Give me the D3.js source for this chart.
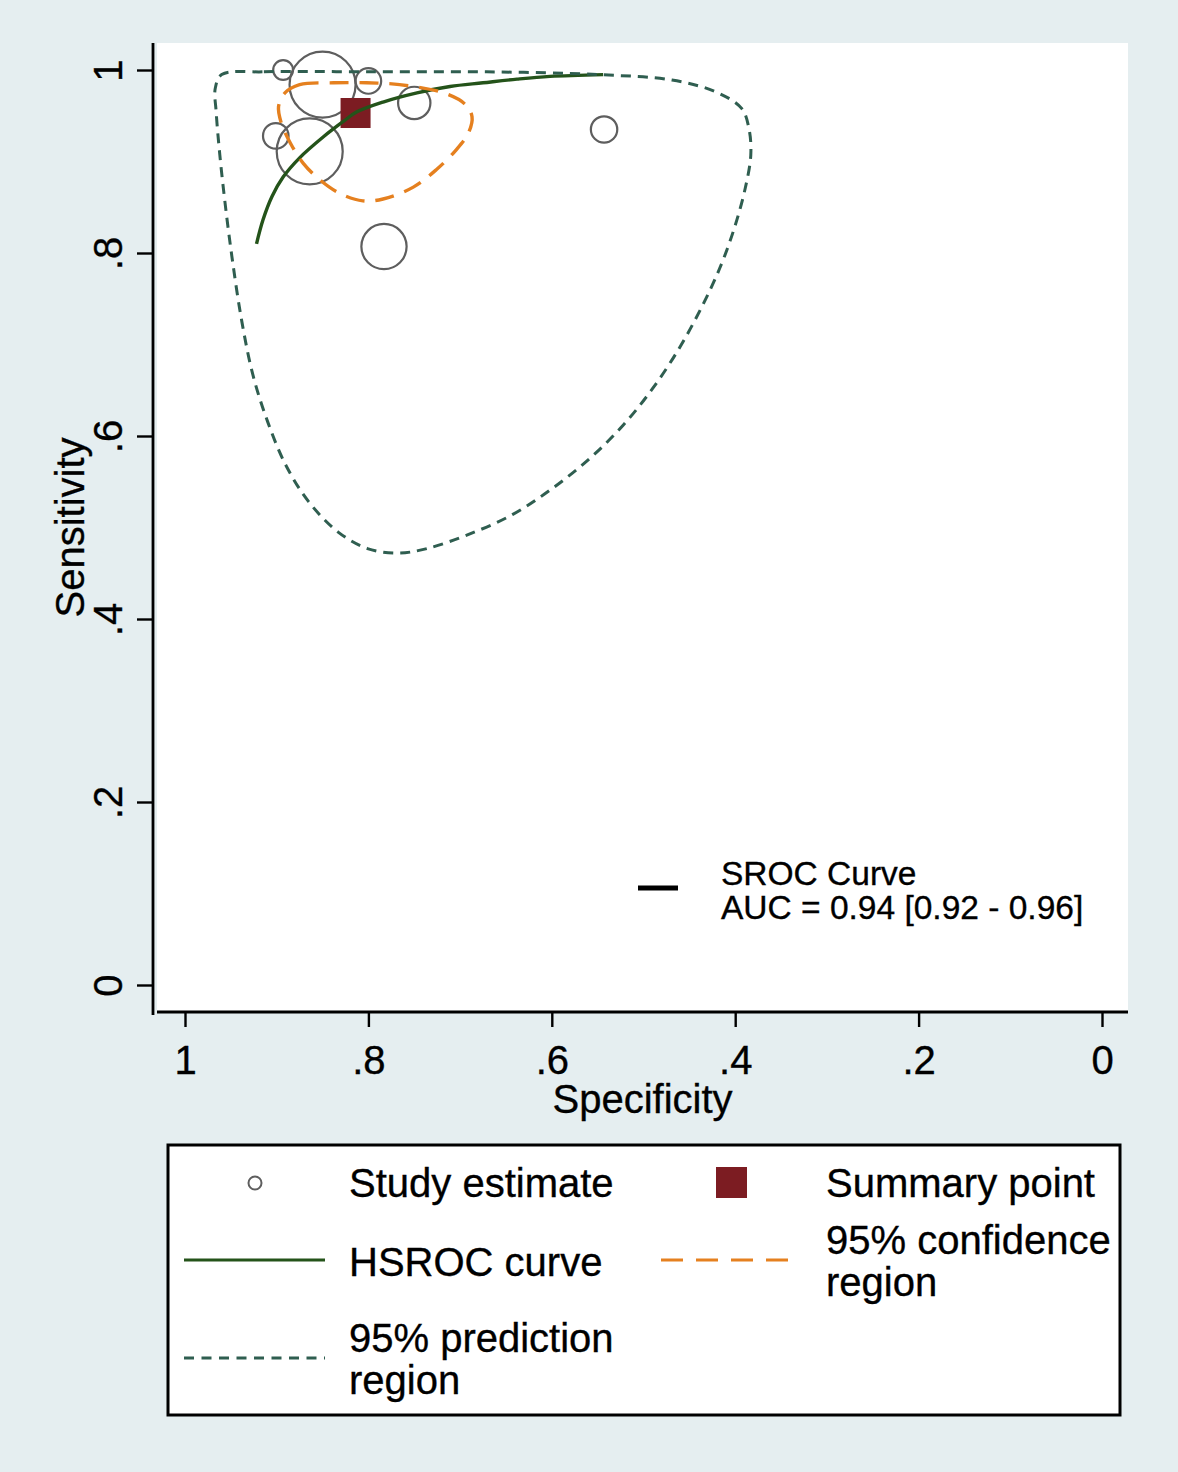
<!DOCTYPE html>
<html>
<head>
<meta charset="utf-8">
<script src="https://cdn.jsdelivr.net/npm/d3@7"></script>
<style>
  html, body { margin: 0; padding: 0; background: #e5eef0; }
  svg { display: block; }
  text { font-family: "Liberation Sans", Arial, sans-serif; fill: #000; stroke: #000; stroke-width: 0.35px; }
</style>
</head>
<body>
<svg id="chart" width="1178" height="1472"></svg>
<script>
// ---------- data ----------
const specTicks = [1, 0.8, 0.6, 0.4, 0.2, 0];
const sensTicks = [0, 0.2, 0.4, 0.6, 0.8, 1];
const tickLabels = ["0", ".2", ".4", ".6", ".8", "1"]; // for 0,.2,.4,.6,.8,1

// individual study estimates
const studySpec   = [0.893, 0.850, 0.800, 0.750, 0.901, 0.864, 0.543, 0.783];
const studySens   = [1.000, 0.984, 0.988, 0.964, 0.928, 0.911, 0.935, 0.807];
const studyWeight = [9, 100, 15, 24, 15, 100, 16, 47];

// summary operating point
const summarySpec = [0.814];
const summarySens = [0.953];

// HSROC curve
const hsrocSpec = [0.922, 0.915, 0.905, 0.893, 0.875, 0.849, 0.827, 0.813, 0.784, 0.747, 0.711, 0.675, 0.638, 0.602, 0.544];
const hsrocSens = [0.810, 0.836, 0.862, 0.883, 0.904, 0.927, 0.944, 0.954, 0.965, 0.975, 0.982, 0.986, 0.990, 0.993, 0.995];

// 95% confidence region
const ciSpec = [0.891, 0.875, 0.838, 0.802, 0.766, 0.718, 0.695, 0.687, 0.691, 0.704, 0.726, 0.751, 0.784, 0.806, 0.831, 0.853, 0.871, 0.885, 0.895, 0.898];
const ciSens = [0.975, 0.984, 0.986, 0.986, 0.984, 0.975, 0.963, 0.949, 0.931, 0.913, 0.891, 0.872, 0.859, 0.857, 0.865, 0.880, 0.898, 0.920, 0.942, 0.960];

// 95% prediction region
const predSpec = [0.960, 0.914, 0.793, 0.671, 0.550, 0.469, 0.421, 0.393, 0.385, 0.383, 0.389, 0.401, 0.417, 0.437, 0.461, 0.490, 0.522, 0.558, 0.599, 0.643, 0.692, 0.736, 0.768, 0.801, 0.833, 0.865, 0.890, 0.910, 0.926, 0.938, 0.948, 0.956, 0.962, 0.966, 0.967];
const predSens = [0.995, 0.998, 0.998, 0.998, 0.995, 0.989, 0.976, 0.958, 0.936, 0.907, 0.871, 0.827, 0.783, 0.740, 0.696, 0.652, 0.612, 0.576, 0.543, 0.514, 0.492, 0.477, 0.472, 0.477, 0.495, 0.528, 0.568, 0.616, 0.667, 0.725, 0.790, 0.852, 0.907, 0.954, 0.980];

const aucText = ["SROC Curve", "AUC = 0.94 [0.92 - 0.96]"];
const xTitle = "Specificity";
const yTitle = "Sensitivity";

// ---------- layout ----------
const svg = d3.select("#chart");
const frame = { left: 157, top: 43, right: 1128, bottom: 1012 };
const x = d3.scaleLinear().domain([1, 0]).range([185, 1102]);
const y = d3.scaleLinear().domain([0, 1]).range([985, 70]);
const r = d3.scaleSqrt().domain([0, 100]).range([0, 33]);

const colors = {
  bg: "#e5eef0",
  study: "#5e5e5e",
  summary: "#7c1c22",
  hsroc: "#24531a",
  ci: "#e5801f",
  pred: "#2f5e50"
};

// plot area
svg.append("rect")
  .attr("x", frame.left).attr("y", frame.top)
  .attr("width", frame.right - frame.left).attr("height", frame.bottom - frame.top)
  .attr("fill", "#ffffff");

// axes
const fmt = v => tickLabels[sensTicks.indexOf(v)];

const yAxis = svg.append("g")
  .attr("transform", `translate(${frame.left - 4},0)`)
  .call(d3.axisLeft(y).tickValues(sensTicks).tickFormat(fmt).tickSize(16).tickSizeOuter(0));
yAxis.select(".domain").remove();
yAxis.selectAll(".tick line").attr("stroke", "#000").attr("stroke-width", 2.4);
yAxis.selectAll(".tick text")
  .attr("x", null).attr("dy", null)
  .attr("transform", "translate(-31,0) rotate(-90)")
  .attr("text-anchor", "middle")
  .style("font-size", "40px")
  .style("font-family", "'Liberation Sans', Arial, sans-serif");
yAxis.append("line")
  .attr("x1", 0).attr("x2", 0)
  .attr("y1", frame.top).attr("y2", frame.bottom + 3)
  .attr("stroke", "#000").attr("stroke-width", 2.8);

const xAxis = svg.append("g")
  .attr("transform", `translate(0,${frame.bottom})`)
  .call(d3.axisBottom(x).tickValues(specTicks).tickFormat(fmt).tickSize(15).tickSizeOuter(0));
xAxis.select(".domain").remove();
xAxis.selectAll(".tick line").attr("stroke", "#000").attr("stroke-width", 2.4);
xAxis.selectAll(".tick text")
  .attr("y", 62).attr("dy", null)
  .attr("text-anchor", "middle")
  .style("font-size", "40px")
  .style("font-family", "'Liberation Sans', Arial, sans-serif");
xAxis.append("line")
  .attr("x1", frame.left).attr("x2", frame.right)
  .attr("y1", 0).attr("y2", 0)
  .attr("stroke", "#000").attr("stroke-width", 2.8);

// axis titles
svg.append("text")
  .attr("x", (frame.left + frame.right) / 2).attr("y", 1113)
  .attr("text-anchor", "middle").style("font-size", "40px")
  .text(xTitle);
svg.append("text")
  .attr("transform", `translate(84,${(frame.top + frame.bottom) / 2}) rotate(-90)`)
  .attr("text-anchor", "middle").style("font-size", "40px")
  .text(yTitle);

// ---------- marks ----------
const studies = studySpec.map((s, i) => ({ spec: s, sens: studySens[i], w: studyWeight[i] }));
svg.append("g").selectAll("circle").data(studies).join("circle")
  .attr("cx", d => x(d.spec)).attr("cy", d => y(d.sens)).attr("r", d => r(d.w))
  .attr("fill", "none").attr("stroke", colors.study).attr("stroke-width", 2.2);

const summary = summarySpec.map((s, i) => ({ spec: s, sens: summarySens[i] }));
const sq = 30;
svg.append("g").selectAll("rect").data(summary).join("rect")
  .attr("x", d => x(d.spec) - sq / 2).attr("y", d => y(d.sens) - sq / 2)
  .attr("width", sq).attr("height", sq)
  .attr("fill", colors.summary);

const line = d3.line().x(d => x(d[0])).y(d => y(d[1]));

svg.append("path")
  .datum(hsrocSpec.map((s, i) => [s, hsrocSens[i]]))
  .attr("d", line.curve(d3.curveCatmullRom.alpha(0.5)))
  .attr("fill", "none").attr("stroke", colors.hsroc).attr("stroke-width", 3.4);

svg.append("path")
  .datum(ciSpec.map((s, i) => [s, ciSens[i]]))
  .attr("d", line.curve(d3.curveCatmullRomClosed.alpha(0.5)))
  .attr("fill", "none").attr("stroke", colors.ci).attr("stroke-width", 3.4)
  .attr("stroke-dasharray", "19 11");

svg.append("path")
  .datum(predSpec.map((s, i) => [s, predSens[i]]))
  .attr("d", line.curve(d3.curveCatmullRomClosed.alpha(0.5)))
  .attr("fill", "none").attr("stroke", colors.pred).attr("stroke-width", 3)
  .attr("stroke-dasharray", "10 7");

// SROC / AUC annotation
svg.append("line")
  .attr("x1", 638).attr("x2", 678).attr("y1", 888).attr("y2", 888)
  .attr("stroke", "#000").attr("stroke-width", 5);
svg.append("g").selectAll("text").data(aucText).join("text")
  .attr("x", 721).attr("y", (d, i) => 885 + i * 34)
  .style("font-size", "33.5px")
  .text(d => d);

// ---------- legend ----------
const lg = svg.append("g");
lg.append("rect")
  .attr("x", 168).attr("y", 1145).attr("width", 952).attr("height", 270)
  .attr("fill", "#ffffff").attr("stroke", "#000").attr("stroke-width", 3);

lg.append("circle").attr("cx", 255).attr("cy", 1183).attr("r", 6.5)
  .attr("fill", "none").attr("stroke", colors.study).attr("stroke-width", 2);
lg.append("rect").attr("x", 716).attr("y", 1167).attr("width", 31).attr("height", 31)
  .attr("fill", colors.summary);
lg.append("line").attr("x1", 184).attr("x2", 325).attr("y1", 1260).attr("y2", 1260)
  .attr("stroke", colors.hsroc).attr("stroke-width", 2.8);
lg.append("line").attr("x1", 661).attr("x2", 800).attr("y1", 1260).attr("y2", 1260)
  .attr("stroke", colors.ci).attr("stroke-width", 3.2).attr("stroke-dasharray", "22 13");
lg.append("line").attr("x1", 184).attr("x2", 325).attr("y1", 1358).attr("y2", 1358)
  .attr("stroke", colors.pred).attr("stroke-width", 3).attr("stroke-dasharray", "10 7.5");

const legendTexts = [
  { t: "Study estimate", x: 349, y: 1197 },
  { t: "Summary point", x: 826, y: 1197 },
  { t: "HSROC curve", x: 349, y: 1276 },
  { t: "95% confidence", x: 826, y: 1254 },
  { t: "region", x: 826, y: 1296 },
  { t: "95% prediction", x: 349, y: 1352 },
  { t: "region", x: 349, y: 1394 }
];
lg.selectAll("text.lt").data(legendTexts).join("text")
  .attr("class", "lt")
  .attr("x", d => d.x).attr("y", d => d.y)
  .style("font-size", "40px")
  .text(d => d.t);
</script>
</body>
</html>
